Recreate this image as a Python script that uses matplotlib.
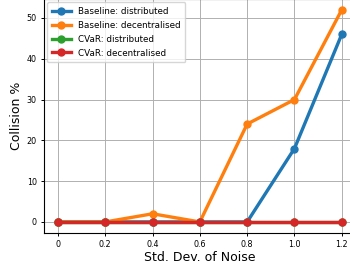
import matplotlib
matplotlib.use("Agg")
import matplotlib.pyplot as plt

noise = [0, 0.2, 0.4, 0.6, 0.8, 1.0, 1.2]
baseline_dist = [0, 0, 0, 0, 0, 18, 46]
baseline_dec = [0, 0, 2, 0, 24, 30, 52]
cvar_dist = [0, 0, 0, 0, 0, 0, 0]
cvar_dec = [0, 0, 0, 0, 0, 0, 0]
xtick_labels = ['0', '0.2', '0.4', '0.6', '0.8', '1.0', '1.2']

fig = plt.figure(figsize=(3.5, 2.67), dpi=100)
ax = fig.add_axes([0.125, 0.129, 0.892, 0.874])

ax.plot(noise, baseline_dist, 'o-', color='#1f77b4', lw=2.4, ms=5, label='Baseline: distributed')
ax.plot(noise, baseline_dec, 'o-', color='#ff7f0e', lw=2.4, ms=5, label='Baseline: decentralised')
ax.plot(noise, cvar_dist, 'o-', color='#2ca02c', lw=2.4, ms=5, label='CVaR: distributed')
ax.plot(noise, cvar_dec, 'o-', color='#d62728', lw=2.4, ms=5, label='CVaR: decentralised')

ax.set_xticks(noise)
ax.set_xticklabels(xtick_labels)
ax.set_yticks([0, 10, 20, 30, 40, 50])
ax.tick_params(labelsize=5.8, length=2.5, pad=2.5, width=0.7)
for sp in ax.spines.values():
    sp.set_linewidth(0.8)
ax.grid(True, color='#b0b0b0', lw=0.7)
ax.set_xlabel('Std. Dev. of Noise', fontsize=9, labelpad=2)
ax.set_ylabel('Collision %', fontsize=9, labelpad=2.5)
ax.legend(loc='upper left', fontsize=6.3, borderaxespad=0.35, borderpad=0.55,
          labelspacing=0.55, handlelength=2.2)

fig.savefig('out.png', dpi=100)
